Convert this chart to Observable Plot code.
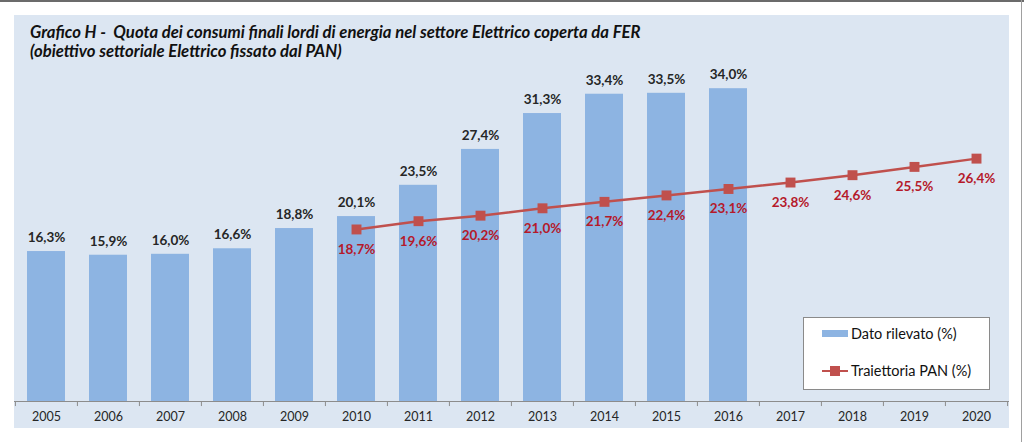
<!DOCTYPE html>
<html>
<head>
<meta charset="utf-8">
<script src="https://cdn.jsdelivr.net/npm/d3@7"></script>
<script src="https://cdn.jsdelivr.net/npm/@observablehq/plot@0.6"></script>
<style>
  html, body { margin: 0; padding: 0; background: #fff; }
  #wrap { position: relative; width: 1024px; height: 442px; overflow: hidden; font-family: Lato, "Noto Sans", sans-serif; }
  #topline { position: absolute; left: 0; top: 0; width: 1024px; height: 2px; background: #6b6b6b; }
  #rightline { position: absolute; left: 1021px; top: 0; width: 1px; height: 442px; background: #a0a0a0; }
  #panel { position: absolute; left: 14px; top: 15px; width: 995px; height: 413px; background: #dce6f2; }
  #title { position: absolute; left: 30px; top: 23px; font-size: 16.7px; font-weight: bold; font-style: italic; color: #111; line-height: 19px; white-space: pre; }
  #chart { position: absolute; left: 0; top: 0; }
  #legend { position: absolute; left: 803px; top: 317px; width: 185px; height: 71px; background: #fff; border: 1px solid #8a8a8a; font-size: 14.5px; color: #111; }
  .row { position: absolute; left: 18px; display: flex; align-items: center; }
  .sw-bar { width: 26px; height: 7px; background: #8db4e2; margin-right: 3px; }
  .sw-line { position: relative; width: 26px; height: 10px; margin-right: 3px; }
  .sw-line .l { position: absolute; left: 0; top: 4px; width: 26px; height: 2.5px; background: #c0504d; }
  .sw-line .m { position: absolute; left: 8px; top: 0; width: 10px; height: 10px; background: #c0504d; }
</style>
</head>
<body>
<div id="wrap">
  <div id="topline"></div>
  <div id="rightline"></div>
  <div id="panel"></div>
  <div id="title">Grafico H -  Quota dei consumi finali lordi di energia nel settore Elettrico coperta da FER
(obiettivo settoriale Elettrico fissato dal PAN)</div>
  <div id="chart"></div>
  <div id="legend">
    <div class="row" style="top:7px"><div class="sw-bar"></div><span>Dato rilevato (%)</span></div>
    <div class="row" style="top:44px"><div class="sw-line"><div class="l"></div><div class="m"></div></div><span>Traiettoria PAN (%)</span></div>
  </div>
</div>
<script>
const years = ["2005","2006","2007","2008","2009","2010","2011","2012","2013","2014","2015","2016","2017","2018","2019","2020"];
const barYears = ["2005","2006","2007","2008","2009","2010","2011","2012","2013","2014","2015","2016"];
const barValues = [16.3, 15.9, 16.0, 16.6, 18.8, 20.1, 23.5, 27.4, 31.3, 33.4, 33.5, 34.0];
const panYears = ["2010","2011","2012","2013","2014","2015","2016","2017","2018","2019","2020"];
const panValues = [18.7, 19.6, 20.2, 21.0, 21.7, 22.4, 23.1, 23.8, 24.6, 25.5, 26.4];

const fmt = v => v.toFixed(1).replace(".", ",") + "%";
const bars = barYears.map((y, i) => ({year: y, value: barValues[i]}));
const pan = panYears.map((y, i) => ({year: y, value: panValues[i]}));

const W = 1024, H = 442, mL = 14, mR = 15;
const band = (W - mL - mR) / years.length;
const font = "Lato, 'Noto Sans', sans-serif";

const chart = Plot.plot({
  width: W,
  height: H,
  marginLeft: mL,
  marginRight: mR,
  marginTop: 33,
  marginBottom: 41,
  style: {background: "transparent", fontFamily: font, overflow: "visible"},
  x: {domain: years, paddingInner: 0.38, paddingOuter: 0.19, align: 0.5, axis: null},
  y: {domain: [0, 40], axis: null},
  marks: [
    Plot.barY(bars, {x: "year", y: "value", fill: "#8db4e2"}),
    Plot.text(bars, {x: "year", y: "value", text: d => fmt(d.value), dy: -14, fontSize: 13.5, fontWeight: "bold", fill: "#262626"}),
    Plot.ruleY([0], {stroke: "#8c8c8c", strokeWidth: 1}),
    Plot.ruleX(years, {x: d => d, dx: -band / 2, y1: 0, y2: -0.55, stroke: "#8c8c8c"}),
    Plot.ruleX(years.slice(-1), {x: d => d, dx: band / 2, y1: 0, y2: -0.55, stroke: "#8c8c8c"}),
    Plot.text(years, {x: d => d, y: 0, text: d => d, dy: 15, fontSize: 12.5, fill: "#262626"}),
    Plot.line(pan, {x: "year", y: "value", stroke: "#c0504d", strokeWidth: 2.5}),
    Plot.dot(pan, {x: "year", y: "value", symbol: "square", r: 5.6, fill: "#c0504d", stroke: "none"}),
    Plot.text(pan, {x: "year", y: "value", text: d => fmt(d.value), dy: 20, fontSize: 13.5, fontWeight: "bold", fill: "#b5192a"})
  ]
});
document.getElementById("chart").appendChild(chart);
</script>
</body>
</html>
